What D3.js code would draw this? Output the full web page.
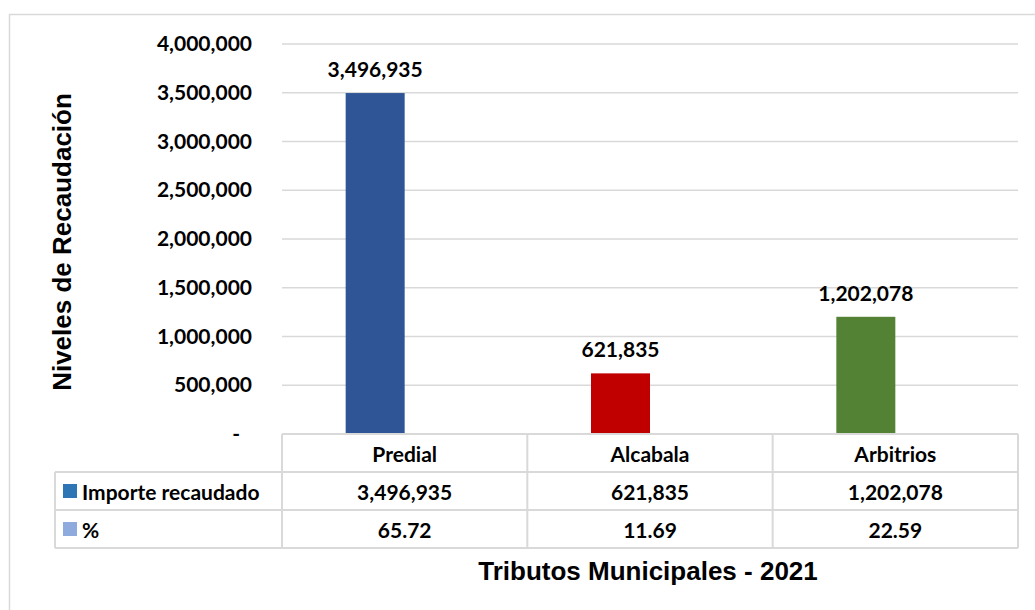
<!DOCTYPE html>
<html>
<head>
<meta charset="utf-8">
<script src="https://cdn.jsdelivr.net/npm/d3@7"></script>
<style>
  body { margin: 0; background: #fff; }
  svg { display: block; }
</style>
</head>
<body>
<svg id="chart" width="1035" height="610"></svg>
<script>
// data
const categories = ['Predial', 'Alcabala', 'Arbitrios'];
const importe = [3496935, 621835, 1202078];
const porcentaje = [65.72, 11.69, 22.59];
const barColors = ['#2f5597', '#c00000', '#548235'];
const seriesNames = ['Importe recaudado', '%'];
const seriesColors = ['#2e75b6', '#8faadc'];
const yTicks = [0, 500000, 1000000, 1500000, 2000000, 2500000, 3000000, 3500000, 4000000];

const svg = d3.select('#chart');
const margin = { top: 44, left: 282, right: 17, bottom: 176 };
const W = 1035, H = 610;
const plotW = W - margin.left - margin.right;
const plotH = H - margin.top - margin.bottom;
const labelFont = 'Lato, "Open Sans", sans-serif';
const titleFont = '"Liberation Sans", Arial, sans-serif';

// outer chart border
svg.append('rect')
  .attr('x', 9.5).attr('y', 14.5)
  .attr('width', W + 20).attr('height', H + 20)
  .attr('fill', 'none').attr('stroke', '#d9d9d9').attr('stroke-width', 1.5);

const g = svg.append('g').attr('transform', `translate(${margin.left},${margin.top})`);

const x = d3.scaleBand().domain(categories).range([0, plotW]);
const xSub = d3.scaleBand().domain(seriesNames).range([x.bandwidth() / 2 - 59, x.bandwidth() / 2 + 59]);
const y = d3.scaleLinear().domain([0, 4000000]).range([plotH, 0]);

// grid lines
g.selectAll('.grid')
  .data(yTicks)
  .join('line')
  .attr('class', 'grid')
  .attr('x1', 0).attr('x2', plotW)
  .attr('y1', d => y(d)).attr('y2', d => y(d))
  .attr('stroke', '#d9d9d9').attr('stroke-width', 1.5);

// y axis labels
const yAxis = d3.axisLeft(y)
  .tickValues(yTicks)
  .tickSize(0)
  .tickPadding(30)
  .tickFormat(d => d3.format(',')(d));
g.append('g')
  .call(yAxis)
  .call(a => a.select('.domain').remove())
  .selectAll('text')
  .attr('font-family', labelFont)
  .attr('font-weight', 'bold')
  .attr('font-size', 21)
  .attr('fill', '#000')
  .attr('dx', d => d === 0 ? -12 : 0)
  .text(d => d === 0 ? '-' : d3.format(',')(d));

// bars (importe); the % series is too small to show
g.selectAll('.bar')
  .data(categories)
  .join('rect')
  .attr('class', 'bar')
  .attr('x', d => x(d) + xSub(seriesNames[0]))
  .attr('width', xSub.bandwidth())
  .attr('y', (d, i) => y(importe[i]))
  .attr('height', (d, i) => plotH - y(importe[i]))
  .attr('fill', (d, i) => barColors[i]);

g.selectAll('.pct')
  .data(categories)
  .join('rect')
  .attr('class', 'pct')
  .attr('x', d => x(d) + xSub(seriesNames[1]))
  .attr('width', xSub.bandwidth())
  .attr('y', (d, i) => y(porcentaje[i]))
  .attr('height', (d, i) => plotH - y(porcentaje[i]))
  .attr('fill', seriesColors[1]);

// data labels
g.selectAll('.lbl')
  .data(categories)
  .join('text')
  .attr('class', 'lbl')
  .attr('x', d => x(d) + xSub(seriesNames[0]) + xSub.bandwidth() / 2)
  .attr('y', (d, i) => y(importe[i]) - 16)
  .attr('text-anchor', 'middle')
  .attr('font-family', labelFont)
  .attr('font-weight', 'bold')
  .attr('font-size', 21)
  .text((d, i) => d3.format(',')(importe[i]));

// data table
const rowH = 38;
const tableX0 = 55 - margin.left;
const tbl = g.append('g').attr('transform', `translate(0,${plotH})`);
const lineColor = '#d9d9d9';

// horizontal lines
tbl.append('line').attr('x1', 0).attr('x2', plotW).attr('y1', 0).attr('y2', 0)
  .attr('stroke', lineColor).attr('stroke-width', 2);
[1, 2, 3].forEach(r => {
  tbl.append('line').attr('x1', tableX0).attr('x2', plotW)
    .attr('y1', r * rowH).attr('y2', r * rowH)
    .attr('stroke', lineColor).attr('stroke-width', 2);
});
// vertical lines
categories.concat(['end']).forEach((c, i) => {
  const xx = i < categories.length ? x(c) : plotW;
  tbl.append('line').attr('x1', xx).attr('x2', xx).attr('y1', 0).attr('y2', 3 * rowH)
    .attr('stroke', lineColor).attr('stroke-width', 2);
});
tbl.append('line').attr('x1', tableX0).attr('x2', tableX0).attr('y1', rowH).attr('y2', 3 * rowH)
  .attr('stroke', lineColor).attr('stroke-width', 2);

const cellText = (sel) => sel
  .attr('font-family', labelFont)
  .attr('font-weight', 'bold')
  .attr('font-size', 21)
  .attr('fill', '#000')
  .attr('dominant-baseline', 'central');

// header row
tbl.selectAll('.hdr')
  .data(categories)
  .join('text')
  .attr('class', 'hdr')
  .attr('x', d => x(d) + x.bandwidth() / 2)
  .attr('y', rowH / 2)
  .attr('text-anchor', 'middle')
  .call(cellText)
  .text(d => d);

const rows = [importe.map(v => d3.format(',')(v)), porcentaje.map(v => v.toFixed(2))];
rows.forEach((vals, r) => {
  const ry = (r + 1.5) * rowH;
  tbl.append('rect')
    .attr('x', tableX0 + 8).attr('y', ry - 7)
    .attr('width', 14).attr('height', 14)
    .attr('fill', seriesColors[r]);
  tbl.append('text')
    .attr('x', tableX0 + 27).attr('y', ry)
    .call(cellText)
    .text(seriesNames[r]);
  tbl.selectAll(`.v${r}`)
    .data(categories)
    .join('text')
    .attr('class', `v${r}`)
    .attr('x', d => x(d) + x.bandwidth() / 2)
    .attr('y', ry)
    .attr('text-anchor', 'middle')
    .call(cellText)
    .text((d, i) => vals[i]);
});

// axis titles
svg.append('text')
  .attr('x', 648).attr('y', 580)
  .attr('text-anchor', 'middle')
  .attr('font-family', titleFont)
  .attr('font-weight', 'bold')
  .attr('font-size', 26)
  .text('Tributos Municipales - 2021');

svg.append('text')
  .attr('transform', 'translate(71,242) rotate(-90)')
  .attr('text-anchor', 'middle')
  .attr('font-family', titleFont)
  .attr('font-weight', 'bold')
  .attr('font-size', 26)
  .text('Niveles de Recaudación');
</script>
</body>
</html>
